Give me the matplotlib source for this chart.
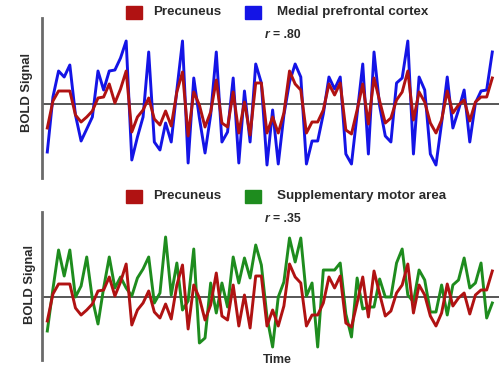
import matplotlib
matplotlib.use("Agg")
import matplotlib.pyplot as plt
from matplotlib.patches import Rectangle

# ---- data (signal deviations, arbitrary units) ----
precuneus = [-24, 3, 13, 13, 13, -11, -18, -13, -7, 6, 7, 20, 1, 15, 33, -28, -13, -6, 6, -15,
             -21, -7, -22, 12, 32, -32, 12, -1, -23, -8, 24, -19, -23, 12, -29, 2, -31, 21, 21, -29,
             -13, -29, -9, 33, 20, 14, -29, -18, -18, -6, 20, 9, 21, -26, -30, -6, 20, -20, 26, 3,
             -19, -14, 4, 12, 33, -16, 12, 2, -19, -29, -16, 13, -9, -1, 4, -17, 2, 7, 7, 26]
mpfc = [-48, 7, 33, 27, 39, -11, -37, -25, -13, 33, 14, 33, 34, 46, 63, -56, -33, -13, 52, -38,
        -46, -19, -38, 14, 63, -59, 26, -14, -49, -11, 52, -38, -28, 26, -59, 13, -38, 40, 21, -61,
        -6, -60, -11, 22, 40, 27, -60, -37, -37, -10, 27, 15, 27, -50, -60, -10, 40, -50, 52, -2,
        -32, -38, 21, 26, 63, -50, 27, 14, -50, -61, -19, 27, -24, -6, 14, -38, 1, 13, 14, 52]
sma = [-34, 8, 47, 21, 47, 0, 11, 40, -2, -27, 9, 40, 9, 20, 9, 1, 19, 28, 40, -6,
       4, 60, 2, 34, -13, -4, 48, -46, -41, 14, -16, 14, -10, 40, 14, 39, 19, 52, 32, -20,
       -50, 0, 15, 59, 35, 59, 1, 14, -50, 27, 27, 27, 34, -17, -40, 19, -12, -10, -10, 18,
       0, 0, 34, 48, 2, -5, 27, 17, -15, -15, 12, -18, 12, 17, 39, 9, 14, 34, -21, -6]
time_idx = list(range(len(precuneus)))

label_top_a = "Precuneus"
label_top_b = "Medial prefrontal cortex"
label_bot_a = "Precuneus"
label_bot_b = "Supplementary motor area"
r_top = "= .80"
r_bot = "= .35"

RED = "#B01212"
BLUE = "#1414E6"
GREEN = "#1E8C1E"
TXT = "#2a2a2a"

W, H = 499, 371
fig = plt.figure(figsize=(W / 100, H / 100), dpi=100)
FONT = "Liberation Sans"


def fx(px):
    return px / W


def fy(py):
    return 1 - py / H


def make_axes(top_px, bot_px, zero_px):
    left_px, right_px = 42, 499
    ax = fig.add_axes([fx(left_px), fy(bot_px), fx(right_px - left_px), (bot_px - top_px) / H])
    step = 5.633
    x0 = -(47.3 - left_px) / step
    ax.set_xlim(x0, x0 + (right_px - left_px) / step)
    ax.set_ylim(-(bot_px - zero_px), zero_px - top_px)
    for s in ["top", "right", "bottom"]:
        ax.spines[s].set_visible(False)
    ax.spines["left"].set_color("#6a6a6a")
    ax.spines["left"].set_linewidth(2.0)
    ax.set_xticks([])
    ax.set_yticks([])
    ax.axhline(0, color="#3a3a3a", lw=1.2, zorder=1)
    ax.patch.set_alpha(0)
    return ax


ax1 = make_axes(18, 178, 104)
ax1.plot(time_idx, mpfc, color=BLUE, lw=2.1, zorder=2)
ax1.plot(time_idx, precuneus, color=RED, lw=2.1, zorder=3)

ax2 = make_axes(212, 360, 297)
ax2.plot(time_idx, sma, color=GREEN, lw=2.1, zorder=2)
ax2.plot(time_idx, precuneus, color=RED, lw=2.1, zorder=3)


def legend_row(y_px, col_b, text_a, text_b):
    for xl, col in [(126, RED), (245, col_b)]:
        fig.patches.append(Rectangle((fx(xl), fy(y_px + 7)), fx(16), 13 / H,
                                     transform=fig.transFigure, color=col, zorder=5))
    fig.text(fx(153), fy(y_px), text_a, fontsize=9.6, fontweight="bold", family=FONT,
             color=TXT, va="center", ha="left")
    fig.text(fx(277), fy(y_px), text_b, fontsize=9.6, fontweight="bold", family=FONT,
             color=TXT, va="center", ha="left")


legend_row(12, BLUE, label_top_a, label_top_b)
legend_row(196, GREEN, label_bot_a, label_bot_b)

for y_px, txt in [(35, r_top), (219, r_bot)]:
    fig.text(fx(265), fy(y_px), "r", fontsize=8.8, fontweight="bold", fontstyle="italic",
             family=FONT, color=TXT, va="center", ha="left")
    fig.text(fx(273), fy(y_px), txt, fontsize=8.8, fontweight="bold",
             family=FONT, color=TXT, va="center", ha="left")

fig.text(fx(27), fy(93), "BOLD Signal", rotation=90, fontsize=9.4, fontweight="bold",
         family=FONT, color=TXT, va="center", ha="center")
fig.text(fx(30), fy(285), "BOLD Signal", rotation=90, fontsize=9.4, fontweight="bold",
         family=FONT, color=TXT, va="center", ha="center")
fig.text(fx(277), fy(360), "Time", fontsize=9, fontweight="bold",
         family=FONT, color=TXT, va="center", ha="center")

fig.savefig("out.png", dpi=100)
